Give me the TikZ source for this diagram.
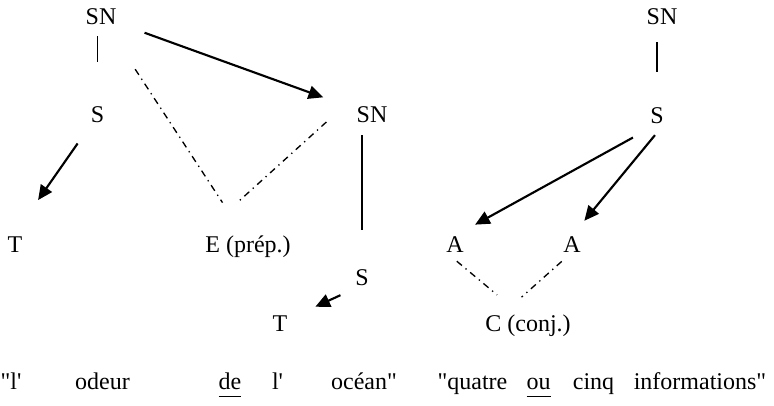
\documentclass[tikz,border=0pt]{standalone}
\usepackage{fontspec}
\setmainfont{Liberation Serif}[Ligatures=TeXOff]
\usetikzlibrary{arrows.meta, calc}
\newcommand{\ulword}[1]{\underline{\vphantom{p}#1}}

\begin{document}
\begin{tikzpicture}[
    x=0.75pt, y=-0.75pt,
    cat/.style={inner sep=0pt, text height=12pt, text depth=0pt,
                font=\fontsize{18pt}{21pt}\selectfont},
    word/.style={inner sep=0pt, anchor=base,
                 font=\fontsize{18pt}{21pt}\selectfont},
    link/.style={line width=1.1pt},
    arr/.style={line width=1.6pt, -{Triangle[length=11pt, width=10pt]}},
    assoc/.style={line width=1pt, dash pattern=on 5pt off 3.5pt on 1pt off 3.5pt},
  ]
    \useasboundingbox (0,0) rectangle (774,406);

    % "l'odeur de l'ocean"
    \node[cat] (sn1) at (101,17) {SN};
    \node[cat] (s1) at (97.5,115) {S};
    \node[cat] (sn2) at (372,115) {SN};
    \node[cat] (t1) at (15,244) {T};
    \node[cat] (e1) at (248,244) {E (prép.)};
    \node[cat] (s2) at (362,277) {S};
    \node[cat] (t2) at (280,323) {T};
    \coordinate (ev) at ([shift={(-20,-33)}]e1.center);

    \draw[link, shorten <=8.3pt, shorten >=33.8pt] (sn1.south -| s1) -- (s1);
    \draw[arr, shorten <=22.3pt, shorten >=26.5pt] (sn1) -- (sn2);
    \draw[arr, shorten <=18.5pt, shorten >=40.2pt] (s1) -- (t1.west);
    \draw[assoc, shorten <=39.4pt, shorten >=7.5pt] (sn1) -- (ev);
    \draw[assoc, shorten >=10.1pt] ([shift={(-30,7)}]sn2.west) -- (ev);
    \draw[link, shorten <=9pt, shorten >=29.3pt] (sn2.south -| s2) -- (s2);
    \draw[arr, shorten <=17.8pt, shorten >=22.9pt] (s2.south) -- (t2);

    % "quatre ou cinq informations"
    \node[cat] (sn3) at (662,17) {SN};
    \node[cat] (s3) at (657,116) {S};
    \node[cat] (a1) at (455,244) {A};
    \node[cat] (a2) at (572,244) {A};
    \node[cat] (c) at (528,323) {C (conj.)};
    \coordinate (cv) at ([shift={(-17,-16.5)}]c.center);

    \draw[link, shorten <=12.8pt, shorten >=27pt] (sn3.south -| s3) -- (s3);
    \draw[arr, shorten <=20.6pt, shorten >=17.2pt] (s3.south) -- (a1.north);
    \draw[arr, shorten <=10.6pt, shorten >=14.6pt] (s3.south east) -- (a2.north);
    \draw[assoc, shorten <=10.5pt, shorten >=13.6pt] (a1.south west) -- (cv);
    \draw[assoc, shorten <=10.3pt, shorten >=10.6pt] (a2.south) -- (cv);

    % exemples
    \node[word] (w1) at (11,389) {"l'};
    \node[word] (w2) at (102.5,389) {odeur};
    \node[word] (w3) at (230,389) {\ulword{de}};
    \node[word] (w4) at (277.5,389) {l'};
    \node[word] (w5) at (364,389) {océan"};
    \node[word] (w6) at (472.5,389) {"quatre};
    \node[word] (w7) at (538.5,389) {\ulword{ou}};
    \node[word] (w8) at (593.5,389) {cinq};
    \node[word] (w9) at (700,389) {informations"};
  \end{tikzpicture}
\end{document}
